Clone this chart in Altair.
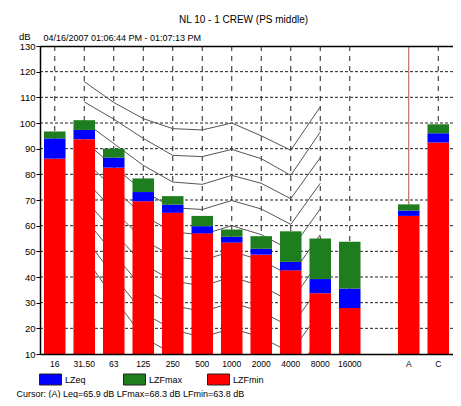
import altair as alt
import pandas as pd

TITLE = "NL 10 - 1 CREW (PS middle)"
PERIOD = "04/16/2007 01:06:44 PM - 01:07:13 PM"
CURSOR = "Cursor: (A)  Leq=65.9 dB  LFmax=68.3 dB  LFmin=63.8 dB"

BANDS = ["16", "31.50", "63", "125", "250", "500", "1000", "2000", "4000", "8000", "16000", "A", "C"]
AXIS_ORDER = ["16", "31.50", "63", "125", "250", "500", "1000", "2000", "4000", "8000", "16000", " ", "A", "C"]
LZFMIN = [86.1, 93.7, 82.6, 69.5, 65.0, 57.0, 53.4, 48.7, 42.6, 33.7, 27.9, 63.8, 92.4]
LZEQ = [94.0, 97.3, 86.5, 73.1, 68.2, 59.8, 55.7, 51.0, 45.9, 39.2, 35.5, 65.9, 96.0]
LZFMAX = [96.7, 101.1, 90.0, 78.4, 71.5, 63.8, 58.5, 55.9, 57.8, 55.0, 53.7, 68.3, 99.5]
BASE = 10
SERIES = ["LZeq", "LZFmax", "LZFmin"]
COLORS = ["#0000ff", "#1e7d1e", "#ff0000"]

CURVE_BANDS = ["31.50", "63", "125", "250", "500", "1000", "2000", "4000", "8000"]
CURVE_100 = [116.1, 108.0, 101.7, 97.8, 97.3, 100.0, 95.0, 89.4, 106.3]
CURVE_90 = [108.2, 101.5, 94.0, 87.4, 86.9, 89.7, 86.1, 79.6, 96.5]
CURVE_80 = [100.5, 92.0, 83.5, 77.0, 76.1, 79.6, 76.5, 70.5, 86.5]
CURVE_70 = [93.0, 83.0, 73.5, 67.0, 66.3, 69.8, 66.5, 60.5, 76.5]
CURVE_60 = [85.5, 74.5, 64.0, 57.5, 56.5, 60.0, 56.5, 50.5, 66.5]
CURVE_50 = [78.0, 66.0, 54.5, 48.0, 46.5, 50.0, 46.5, 40.5, 56.5]
CURVE_40 = [70.5, 57.5, 45.0, 38.5, 36.5, 40.0, 36.5, 30.5, 46.5]
CURVE_30 = [63.0, 49.0, 35.5, 29.0, 26.5, 30.0, 26.5, 20.5, 36.5]
CURVE_20 = [55.5, 40.5, 26.0, 19.5, 16.5, 20.0, 16.5, 10.5, 26.5]
CURVE_10 = [48.0, 32.0, 16.5, 10.0, 6.5, 10.0, 6.5, 0.5, 16.5]
CURVES = {100: CURVE_100, 90: CURVE_90, 80: CURVE_80, 70: CURVE_70, 60: CURVE_60,
          50: CURVE_50, 40: CURVE_40, 30: CURVE_30, 20: CURVE_20, 10: CURVE_10}

Y_TICKS = [10, 20, 30, 40, 50, 60, 70, 80, 90, 100, 110, 120, 130]
GRID_Y = [20, 30, 40, 50, 60, 70, 80, 90, 100, 110, 120]
GRID_X = ["16", "31.50", "63", "125", "250", "500", "1000", "2000", "4000", "8000", "16000", "C"]
CURSOR_BAND = ["A"]

FONT = "Liberation Sans, Arial, sans-serif"

rows = []
for b, lo, eq, hi in zip(BANDS, LZFMIN, LZEQ, LZFMAX):
    rows.append({"band": b, "lo": BASE, "hi": lo, "series": "LZFmin"})
    rows.append({"band": b, "lo": lo, "hi": eq, "series": "LZeq"})
    rows.append({"band": b, "lo": eq, "hi": hi, "series": "LZFmax"})
bar_df = pd.DataFrame(rows)

crows = []
for lvl, vals in CURVES.items():
    for i, (b, v) in enumerate(zip(CURVE_BANDS, vals)):
        crows.append({"band": b, "val": v, "level": lvl, "idx": i})
curve_df = pd.DataFrame(crows)

x_scale = alt.Scale(domain=AXIS_ORDER, paddingInner=0.27, paddingOuter=0.135)
y_scale = alt.Scale(domain=[10, 130], nice=False, zero=False)

Y_AXIS = alt.Axis(values=Y_TICKS, title="dB", titleAngle=0, titleX=-10, titleY=-7,
                  titleAlign="right", titleBaseline="alphabetic",
                  titleFontWeight="normal", titleFontSize=9.5, titleColor="black",
                  grid=False, tickSize=4, tickColor="black", domainColor="black",
                  domainWidth=1.5, labelPadding=1, labelFontSize=9.5,
                  labelColor="black", zindex=1)

hgrid = alt.Chart(pd.DataFrame({"v": GRID_Y})).mark_rule(
    strokeDash=[3, 2], color="#222", strokeWidth=1
).encode(y=alt.Y("v:Q", scale=y_scale, axis=Y_AXIS))

vgrid = alt.Chart(pd.DataFrame({"band": GRID_X})).mark_rule(
    strokeDash=[5, 5], color="#222", strokeWidth=1
).encode(
    x=alt.X("band:N", scale=x_scale, sort=AXIS_ORDER,
            axis=alt.Axis(orient="top", title=PERIOD, labels=False, ticks=False,
                          grid=False, domain=True, domainColor="black", domainWidth=1.5,
                          titleX=3, titleY=-6, titleAlign="left", titleAnchor="start",
                          titleBaseline="alphabetic", titleFontWeight="normal",
                          titleFontSize=9, titleColor="black", zindex=1))
)

cursor = alt.Chart(pd.DataFrame({"band": CURSOR_BAND})).mark_rule(
    color="#b4553a", strokeWidth=1
).encode(x=alt.X("band:N", scale=x_scale, sort=AXIS_ORDER, axis=None))

curves = alt.Chart(curve_df).mark_line(color="#555555", strokeWidth=1, clip=True).encode(
    x=alt.X("band:N", scale=x_scale, sort=AXIS_ORDER, axis=None),
    y=alt.Y("val:Q", scale=y_scale, axis=Y_AXIS),
    detail="level:N",
    order="idx:Q",
)

legend = alt.Legend(
    orient="none", legendX=-1, legendY=322, direction="horizontal", title=None,
    symbolType="M-1,-0.5L1,-0.5L1,0.5L-1,0.5Z", symbolSize=484,
    symbolStrokeColor="#222", symbolStrokeWidth=1, symbolOpacity=1,
    labelOffset=3, columnPadding=22, padding=0, gridAlign="all",
    labelFontSize=9, labelColor="black", labelFont=FONT,
)

bars = alt.Chart(bar_df).mark_bar().encode(
    x=alt.X("band:N", scale=x_scale, sort=AXIS_ORDER,
            axis=alt.Axis(orient="bottom", title=CURSOR, titleAnchor="start",
                          titleAlign="left", titleX=-24, titleY=42,
                          titleBaseline="alphabetic", titleFontWeight="normal",
                          titleFontSize=9, titleColor="black",
                          labelAngle=0, labelPadding=5, ticks=False, grid=False,
                          domainColor="black", domainWidth=1.5, labelFontSize=8.5,
                          labelColor="black", zindex=1)),
    y=alt.Y("lo:Q", scale=y_scale, axis=Y_AXIS),
    y2="hi:Q",
    color=alt.Color("series:N", scale=alt.Scale(domain=SERIES, range=COLORS), legend=legend),
)

chart = alt.layer(hgrid, vgrid, cursor, curves, bars).resolve_axis(x="independent").properties(
    width=413, height=308,
    autosize=alt.AutoSizeParams(type="none"),
    padding={"left": 32, "top": 38, "right": 0, "bottom": 44},
    title=alt.TitleParams(TITLE, anchor="middle", frame="group", dx=-3, offset=6,
                          fontSize=10, fontWeight="normal", color="black", font=FONT),
).configure(font=FONT).configure_view(stroke=None).configure_axis(labelFont=FONT, titleFont=FONT)

chart.save("out.html", embed_options={"renderer": "svg", "actions": False})
